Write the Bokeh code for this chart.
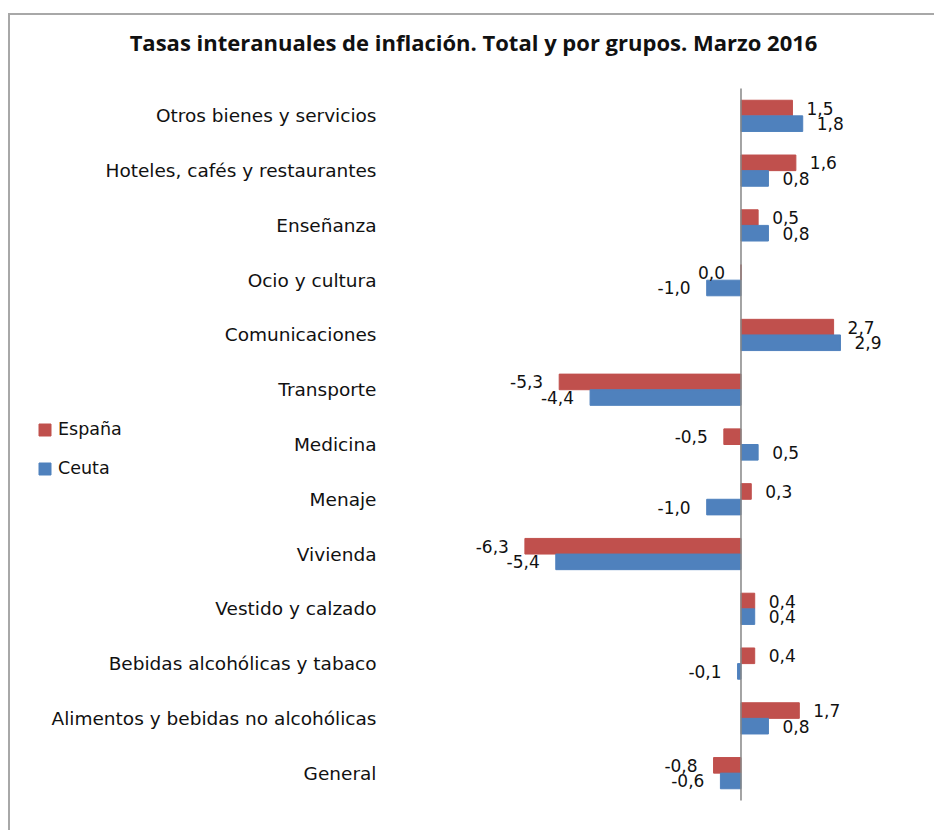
from bokeh.plotting import figure
from bokeh.models import ColumnDataSource, FactorRange, Range1d, LabelSet, Legend, LegendItem
from bokeh.transform import dodge
from bokeh.core.properties import value
from bokeh.embed import file_html
from bokeh.resources import INLINE

categories = ["General", "Alimentos y bebidas no alcohólicas", "Bebidas alcohólicas y tabaco",
              "Vestido y calzado", "Vivienda", "Menaje", "Medicina", "Transporte",
              "Comunicaciones", "Ocio y cultura", "Enseñanza", "Hoteles, cafés y restaurantes",
              "Otros bienes y servicios"]
espana = [-0.8, 1.7, 0.4, 0.4, -6.3, 0.3, -0.5, -5.3, 2.7, 0.0, 0.5, 1.6, 1.5]
ceuta = [-0.6, 0.8, -0.1, 0.4, -5.4, -1.0, 0.5, -4.4, 2.9, -1.0, 0.8, 0.8, 1.8]
series_names = ["España", "Ceuta"]
title_text = "Tasas interanuales de inflación. Total y por grupos. Marzo 2016"

RED = "#C0504D"
BLUE = "#4F81BD"
FONT = "DejaVu Sans"
TXT = "#111111"

def fmt(v):
    return ("%.1f" % v).replace(".", ",")

def make_source(vals):
    return ColumnDataSource(dict(
        cat=categories,
        val=vals,
        txt=[fmt(v) for v in vals],
        xoff=[14 if v > 0 else -16 for v in vals],
        align=["left" if v > 0 else "right" for v in vals],
    ))

src_e = make_source(espana)
src_c = make_source(ceuta)

W, H = 926, 817
p = figure(width=W, height=H, output_backend="svg", toolbar_location=None,
           y_range=FactorRange(factors=categories, range_padding=0.0898),
           x_range=Range1d(-21.297, 5.700),
           min_border_left=0, min_border_right=0, min_border_top=41, min_border_bottom=0,
           margin=(13, 0, 0, 8))
p.styles = {"border-left": "2px solid #a8a8a8", "border-top": "2px solid #a8a8a8"}
p.outline_line_color = None
p.xgrid.visible = False
p.ygrid.visible = False
p.xaxis.visible = False

p.title.text = title_text
p.title.align = "center"
p.title.text_font = "Open Sans"
p.title.text_font_size = "22px"
p.title.text_font_style = "bold"
p.title.text_color = TXT
p.title.standoff = 0

p.yaxis.fixed_location = -10.335
p.yaxis.axis_line_color = None
p.yaxis.major_tick_line_color = None
p.yaxis.minor_tick_line_color = None
p.yaxis.major_label_standoff = 4
p.yaxis.major_label_text_font = FONT
p.yaxis.major_label_text_font_size = "18.5px"
p.yaxis.major_label_text_color = TXT

bw = 0.285
r_e = p.hbar(y=dodge("cat", bw / 2, range=p.y_range), right="val", left=0, height=bw,
             source=src_e, fill_color=RED, line_color=RED)
r_c = p.hbar(y=dodge("cat", -bw / 2, range=p.y_range), right="val", left=0, height=bw,
             source=src_c, fill_color=BLUE, line_color=BLUE)

p.segment(x0=[0], x1=[0], y0=[0], y1=[len(categories)], line_color="#868686", line_width=1.5)

for src, off in ((src_e, bw / 2), (src_c, -bw / 2)):
    p.add_layout(LabelSet(x="val", y=dodge("cat", off, range=p.y_range), text="txt", source=src,
                          x_offset="xoff", text_align="align", text_baseline="middle",
                          text_font=value(FONT), text_font_size="17px", text_color=TXT))

legend = Legend(items=[LegendItem(label=series_names[0], renderers=[r_e]),
                       LegendItem(label=series_names[1], renderers=[r_c])],
                location=(27, 354), orientation="vertical",
                glyph_width=15, glyph_height=15, label_height=15, spacing=19,
                label_standoff=6, padding=0, margin=0,
                background_fill_alpha=0, border_line_color=None,
                label_text_font=FONT, label_text_font_size="17.5px", label_text_color=TXT)
p.add_layout(legend)

open("out.html", "w").write(file_html(p, INLINE))
